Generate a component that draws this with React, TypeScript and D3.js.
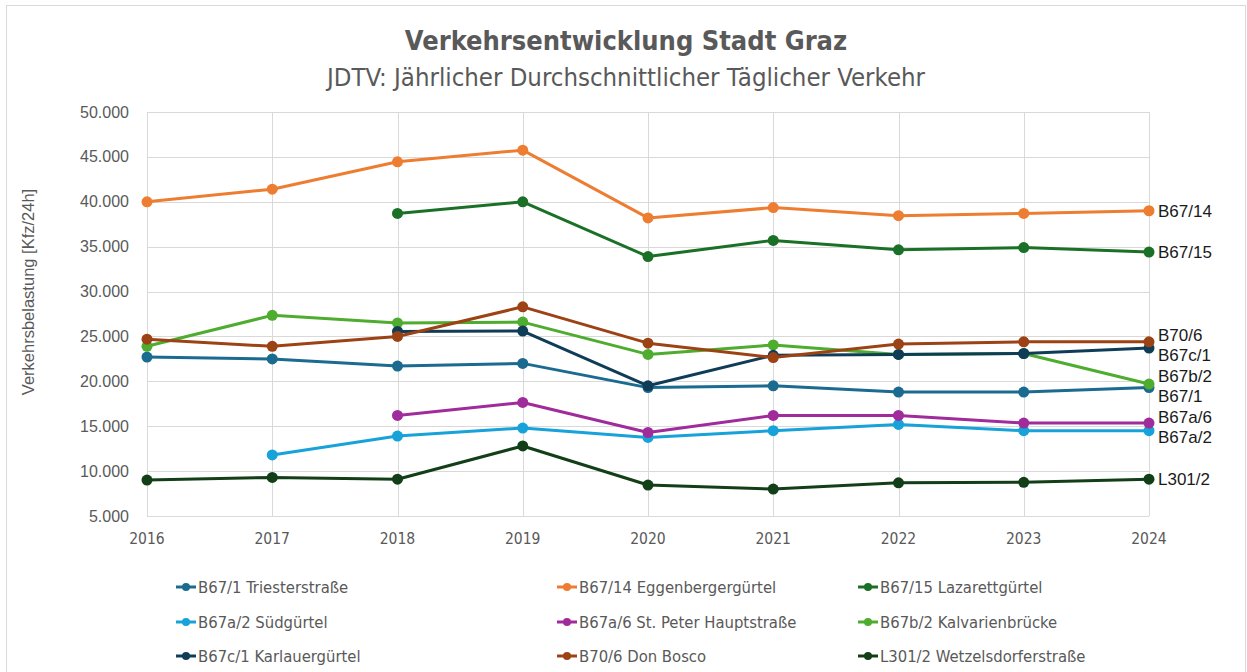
import React from "react";
import * as d3 from "d3";

const years = [2016, 2017, 2018, 2019, 2020, 2021, 2022, 2023, 2024];
const yTicks = [5000, 10000, 15000, 20000, 25000, 30000, 35000, 40000, 45000, 50000];

const names = [
  "B67/1 Triesterstraße",
  "B67/14 Eggenbergergürtel",
  "B67/15 Lazarettgürtel",
  "B67a/2 Südgürtel",
  "B67a/6 St. Peter Hauptstraße",
  "B67b/2 Kalvarienbrücke",
  "B67c/1 Karlauergürtel",
  "B70/6 Don Bosco",
  "L301/2 Wetzelsdorferstraße",
];
const shortNames = ["B67/1", "B67/14", "B67/15", "B67a/2", "B67a/6", "B67b/2", "B67c/1", "B70/6", "L301/2"];
const colors = ["#1B6A8F", "#ED7D31", "#1B7027", "#17A2DA", "#A02B9B", "#4EAC2F", "#0F3D58", "#9C4214", "#123F17"];

const b67_1 = [22700, 22500, 21700, 22000, 19300, 19500, 18800, 18800, 19300];
const b67_14 = [40000, 41400, 44450, 45750, 38200, 39350, 38450, 38700, 39000];
const b67_15 = [null, null, 38700, 40000, 33900, 35700, 34650, 34900, 34400];
const b67a_2 = [null, 11800, 13900, 14800, 13750, 14500, 15200, 14500, 14500];
const b67a_6 = [null, null, 16200, 17650, 14300, 16200, 16200, 15350, 15350];
const b67b_2 = [23900, 27350, 26500, 26600, 23000, 24050, 23000, 23100, 19700];
const b67c_1 = [null, null, 25550, 25600, 19500, 22900, 23000, 23100, 23700];
const b70_6 = [24700, 23900, 25000, 28300, 24250, 22650, 24150, 24400, 24400];
const l301_2 = [9000, 9300, 9100, 12800, 8450, 8000, 8700, 8750, 9100];

const seriesValues: (number | null)[][] = [b67_1, b67_14, b67_15, b67a_2, b67a_6, b67b_2, b67c_1, b70_6, l301_2];

const W = 1247;
const H = 672;
const plot = { left: 147, right: 1149, top: 112, bottom: 516 };

const locale = d3.formatLocale({ decimal: ",", thousands: ".", grouping: [3], currency: ["", "€"] });
const fmt = locale.format(",.0f");

const narrow = "'Liberation Sans Narrow', 'DejaVu Sans Condensed', 'Roboto', sans-serif";
const regular = "'Liberation Sans', Arial, sans-serif";
const grey = "#595959";

export default function App() {
  const x = d3.scaleLinear().domain([2016, 2024]).range([plot.left, plot.right]);
  const y = d3.scaleLinear().domain([5000, 50000]).range([plot.bottom, plot.top]);

  const line = d3
    .line<[number, number | null]>()
    .defined((d) => d[1] != null)
    .x((d) => x(d[0]))
    .y((d) => y(d[1] as number));

  // end labels with simple collision avoidance
  const endPts = seriesValues.map((vals, i) => ({ i, y: y(vals[vals.length - 1] as number) }));
  const sorted = [...endPts].sort((a, b) => a.y - b.y);
  const pos = sorted.map((d) => d.y);
  const gap = 20;
  for (let iter = 0; iter < 200; iter++) {
    let moved = false;
    for (let k = 0; k < pos.length - 1; k++) {
      const diff = pos[k + 1] - pos[k];
      if (diff < gap) {
        const push = (gap - diff) / 2;
        pos[k] -= push;
        pos[k + 1] += push;
        moved = true;
      }
    }
    if (!moved) break;
  }
  const labelY: number[] = [];
  sorted.forEach((d, k) => (labelY[d.i] = pos[k]));

  const legendCols = [176, 557, 858];
  const legendRows = [587, 622, 656];

  return (
    <div style={{ position: "absolute", left: 0, top: 0 }}>
      <svg width={W} height={H} style={{ display: "block", background: "#fff" }}>
        <rect x={6.5} y={5.5} width={1239} height={700} fill="#fff" stroke="#d9d9d9" strokeWidth={1} />
        <text x={626} y={50} textAnchor="middle" fontFamily={narrow} fontWeight="bold" fontSize={27} fill={grey}>
          Verkehrsentwicklung Stadt Graz
        </text>
        <text x={626} y={86} textAnchor="middle" fontFamily={narrow} fontSize={24} fill={grey} textLength={598} lengthAdjust="spacingAndGlyphs">
          JDTV: Jährlicher Durchschnittlicher Täglicher Verkehr
        </text>

        {/* grid */}
        {yTicks.map((t) => (
          <line key={"gy" + t} x1={plot.left} x2={plot.right} y1={Math.round(y(t)) + 0.5} y2={Math.round(y(t)) + 0.5} stroke="#d9d9d9" strokeWidth={1} />
        ))}
        {years.map((t) => (
          <line key={"gx" + t} x1={Math.round(x(t)) + 0.5} x2={Math.round(x(t)) + 0.5} y1={plot.top} y2={plot.bottom} stroke="#d9d9d9" strokeWidth={1} />
        ))}

        {/* y tick labels */}
        {yTicks.map((t) => (
          <text key={"ty" + t} x={129} y={y(t)} dy="0.35em" textAnchor="end" fontFamily={regular} fontSize={16} fill={grey}>
            {fmt(t)}
          </text>
        ))}
        {/* x tick labels */}
        {years.map((t) => (
          <text key={"tx" + t} x={x(t)} y={539} dy="0.35em" textAnchor="middle" fontFamily={narrow} fontSize={15.5} fill={grey}>
            {t}
          </text>
        ))}
        <text
          transform={`translate(28,${(plot.top + plot.bottom) / 2 - 22}) rotate(-90)`}
          textAnchor="middle"
          dy="0.35em"
          fontFamily={regular}
          fontSize={16.5}
          fill={grey}
        >
          Verkehrsbelastung [Kfz/24h]
        </text>

        {/* series */}
        {seriesValues.map((vals, i) => {
          const pts = years.map((yr, k) => [yr, vals[k]] as [number, number | null]);
          return (
            <g key={"s" + i}>
              <path d={line(pts) || ""} fill="none" stroke={colors[i]} strokeWidth={3} strokeLinejoin="round" />
              {pts
                .filter((p) => p[1] != null)
                .map((p) => (
                  <circle key={p[0]} cx={x(p[0])} cy={y(p[1] as number)} r={5.5} fill={colors[i]} />
                ))}
            </g>
          );
        })}

        {/* end labels */}
        {seriesValues.map((vals, i) => (
          <text key={"el" + i} x={1158} y={labelY[i]} dy="0.35em" fontFamily={regular} fontSize={17} fill="#1a1a1a">
            {shortNames[i]}
          </text>
        ))}

        {/* legend */}
        {names.map((n, i) => {
          const cx = legendCols[i % 3];
          const cy = legendRows[Math.floor(i / 3)];
          return (
            <g key={"lg" + i}>
              <line x1={cx} x2={cx + 20} y1={cy} y2={cy} stroke={colors[i]} strokeWidth={3} />
              <circle cx={cx + 10} cy={cy} r={4} fill={colors[i]} />
              <text x={cx + 22} y={cy} dy="0.35em" fontFamily={narrow} fontSize={16.5} fill={grey}>
                {n}
              </text>
            </g>
          );
        })}
      </svg>
    </div>
  );
}
